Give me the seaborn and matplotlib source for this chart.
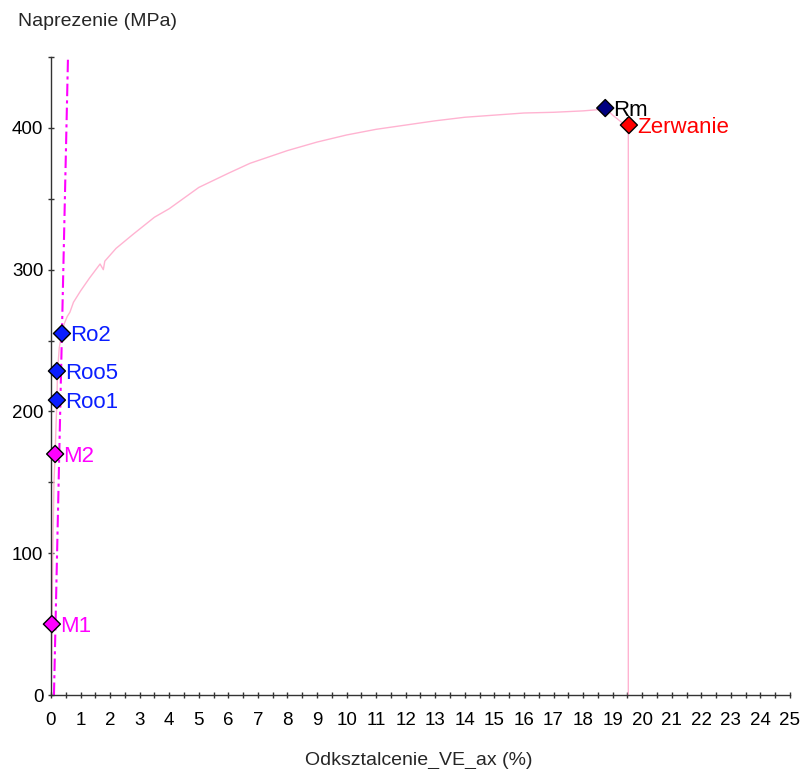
import matplotlib
matplotlib.use("Agg")
import matplotlib.pyplot as plt
import seaborn as sns
import numpy as np
import pandas as pd
from matplotlib.ticker import MultipleLocator

# ---- data ----
strain = [0.0, 0.02, 0.03, 0.06, 0.10, 0.14, 0.17, 0.20, 0.22, 0.28, 0.37, 0.45, 0.55, 0.64,
          0.76, 1.0, 1.3, 1.66, 1.77, 1.82, 2.2, 2.78, 3.5, 4.0, 5.0, 6.0, 6.73, 8.0, 9.0,
          10.0, 11.0, 12.0, 13.0, 14.0, 15.0, 16.0, 17.0, 18.0, 18.6, 18.75, 19.0, 19.3,
          19.53, 19.53]
stress = [0, 30, 50, 100, 150, 170, 190, 208, 228, 245, 255, 262, 267, 270,
          277, 285, 294, 304, 300, 306, 315, 325, 337, 343, 358, 368, 375, 384, 390,
          395, 399, 402, 405, 407.5, 409, 410.5, 411, 412, 413, 414, 409, 404,
          402, 0]

modulus_x = [0.10, 0.575]
modulus_y = [0, 450]

point_names = ["M1", "M2", "Roo1", "Roo5", "Ro2", "Rm", "Zerwanie"]
point_x = [0.03, 0.14, 0.20, 0.20, 0.37, 18.75, 19.55]
point_y = [50, 170, 208, 228.5, 255, 414, 402]
point_fill = ["#ff00ff", "#ff00ff", "#0a1eff", "#0a1eff", "#0a1eff", "#000080", "#ff0000"]
point_text = ["#ff00ff", "#ff00ff", "#0a1eff", "#0a1eff", "#0a1eff", "#000000", "#ff0000"]

x_ticks_major = list(range(0, 26))
y_ticks_major = [0, 100, 200, 300, 400]

# ---- drawing ----
sns.set_style("ticks")
plt.rcParams['font.family'] = ['Liberation Sans', 'DejaVu Sans']

fig = plt.figure(figsize=(8.03, 7.69), dpi=100)
ax = fig.add_axes([51/803, 1-695/769, (790-51)/803, (695-57)/769])

curve = pd.DataFrame({"strain": strain, "stress": stress})
sns.lineplot(data=curve, x="strain", y="stress", sort=False, ax=ax,
             color="#ffb3d1", linewidth=1.0, estimator=None)

mod = pd.DataFrame({"x": modulus_x, "y": modulus_y})
sns.lineplot(data=mod, x="x", y="y", sort=False, ax=ax, color="#ff00ff",
             linewidth=1.5, estimator=None, linestyle=(0, (6, 2, 1.5, 2)))

pts = pd.DataFrame({"x": point_x, "y": point_y, "name": point_names})
sns.scatterplot(data=pts, x="x", y="y", hue="name", palette=dict(zip(point_names, point_fill)),
                marker="D", s=75, edgecolor="black", linewidth=1.0, ax=ax,
                legend=False, zorder=5, clip_on=False)

for nm, px, py, tc in zip(point_names, point_x, point_y, point_text):
    ax.annotate(nm, (px, py), xytext=(6, -1.5), textcoords="offset points",
                color=tc, fontsize=16, va="center", ha="left", zorder=6)

ax.set_xlim(0, 25)
ax.set_ylim(0, 450)
ax.set_xticks(x_ticks_major)
ax.xaxis.set_minor_locator(MultipleLocator(0.5))
ax.set_yticks(y_ticks_major)
ax.yaxis.set_minor_locator(MultipleLocator(50))
ax.tick_params(axis="both", which="both", direction="inout", color="#333333",
               length=5, width=1.0, bottom=True, left=True)
ax.tick_params(axis="x", which="major", labelsize=13.5, pad=10, labelcolor="black")
ax.tick_params(axis="y", which="major", labelsize=13.5, pad=3, labelcolor="black")
for s in ["top", "right"]:
    ax.spines[s].set_visible(False)
for s in ["left", "bottom"]:
    ax.spines[s].set_color("#333333")
    ax.spines[s].set_linewidth(1.0)
ax.set_xlabel("")
ax.set_ylabel("")

fig.text(18/803, 1-22/769, "Naprezenie (MPa)", fontsize=14, ha="left", va="center")
fig.text(419/803, 1-760/769, "Odksztalcenie_VE_ax (%)", fontsize=14, ha="center", va="center")

fig.savefig("out.png", dpi=100)
